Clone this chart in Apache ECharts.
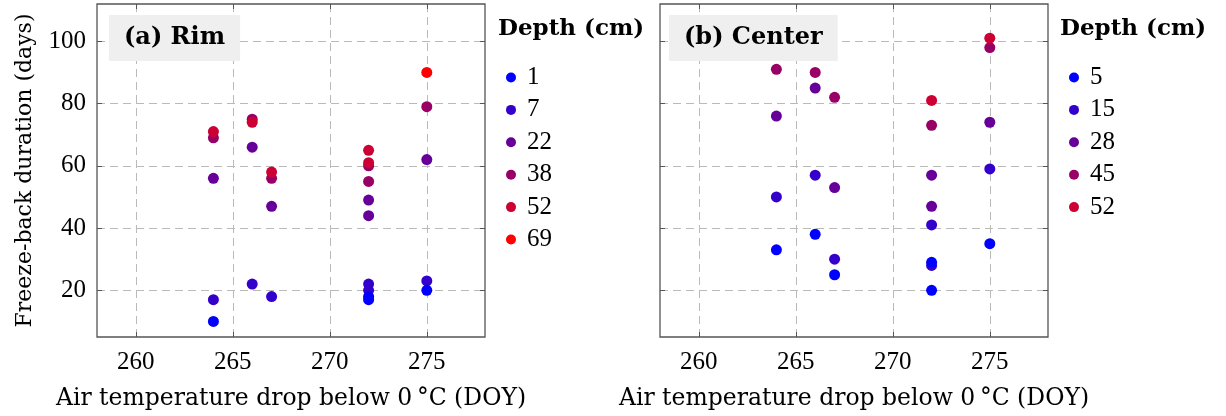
<!DOCTYPE html>
<html>
<head>
<meta charset="utf-8">
<script src="https://cdn.jsdelivr.net/npm/echarts@6/dist/echarts.min.js"></script>
<style>
html,body{margin:0;padding:0;background:#fff;}
#chart{width:1226px;height:416px;}
</style>
</head>
<body>
<div id="chart"></div>
<script>
// ---- data: [DOY of air temperature drop, freeze-back duration (days)] ----
const xTicks = [260, 265, 270, 275];
const yTicks = [20, 40, 60, 80, 100];

const rimDepths = ['1', '7', '22', '38', '52', '69'];
const rimD1  = [[264, 10], [272, 18], [272, 17], [275, 20]];
const rimD7  = [[264, 17], [266, 22], [267, 18], [272, 22], [272, 20], [275, 23]];
const rimD22 = [[264, 56], [266, 66], [267, 47], [272, 49], [272, 44], [275, 62]];
const rimD38 = [[264, 69], [266, 75], [267, 56], [272, 60], [272, 55], [275, 79]];
const rimD52 = [[264, 71], [266, 74], [267, 58], [272, 65], [272, 61]];
const rimD69 = [[275, 90]];

const centerDepths = ['5', '15', '28', '45', '52'];
const cenD5  = [[264, 33], [266, 38], [267, 25], [272, 29], [272, 20], [275, 35]];
const cenD15 = [[264, 50], [266, 57], [267, 30], [272, 41], [272, 28], [275, 59]];
const cenD28 = [[264, 76], [266, 85], [267, 53], [272, 57], [272, 47], [275, 74]];
const cenD45 = [[264, 91], [266, 90], [267, 82], [272, 73], [275, 98]];
const cenD52 = [[272, 81], [275, 101]];

const depthColors = {
  '1': '#0000ff', '5': '#0000ff',
  '7': '#3300cc', '15': '#3300cc',
  '22': '#660099', '28': '#660099',
  '38': '#990066', '45': '#990066',
  '52': '#cc0033', '69': '#ff0000'
};

const xName = 'Air temperature drop below 0\u2009°C (DOY)';
const yName = 'Freeze-back duration (days)';

// ---- layout ----
const grids = [
  {left: 97, top: 4, width: 388, height: 334},
  {left: 660, top: 4, width: 388, height: 334}
];
const frameColor = '#555555';
const gridLineStyle = {type: [8, 5], color: '#bababa', width: 1};
const tickFont = {fontFamily: 'Liberation Serif', fontSize: 25, color: '#000'};
const nameFont = {fontFamily: 'DejaVu Serif', fontSize: 23.5, color: '#000'};

function bottomX(i) {
  return {
    type: 'value', gridIndex: i, min: 258, max: 278, position: 'bottom',
    axisLine: {show: false},
    axisTick: {show: true, inside: true, length: 5, customValues: xTicks, lineStyle: {color: frameColor}},
    axisLabel: {show: true, customValues: xTicks, margin: 13, ...tickFont},
    splitLine: {show: true, lineStyle: gridLineStyle},
    name: xName, nameLocation: 'middle', nameGap: 50, nameTextStyle: nameFont
  };
}
function topX(i) {
  return {
    type: 'value', gridIndex: i, min: 258, max: 278, position: 'top',
    axisLine: {show: false},
    axisTick: {show: true, inside: true, length: 5, customValues: xTicks, lineStyle: {color: frameColor}},
    axisLabel: {show: false}, splitLine: {show: false}
  };
}
function leftY(i, labels) {
  const ax = {
    type: 'value', gridIndex: i, min: 5, max: 112, position: 'left',
    axisLine: {show: false},
    axisTick: {show: true, inside: true, length: 5, customValues: yTicks, lineStyle: {color: frameColor}},
    axisLabel: {show: labels, customValues: yTicks, margin: 11, ...tickFont},
    splitLine: {show: true, lineStyle: gridLineStyle}
  };
  if (labels) {
    ax.name = yName; ax.nameLocation = 'middle'; ax.nameGap = 61;
    ax.nameTextStyle = {...nameFont, fontSize: 22};
  }
  return ax;
}
function rightY(i) {
  return {
    type: 'value', gridIndex: i, min: 5, max: 112, position: 'right',
    axisLine: {show: false},
    axisTick: {show: true, inside: true, length: 5, customValues: yTicks, lineStyle: {color: frameColor}},
    axisLabel: {show: false}, splitLine: {show: false}
  };
}

function sc(name, data, gi) {
  return {
    type: 'scatter', name: name, data: data,
    xAxisIndex: gi, yAxisIndex: gi,
    symbol: 'circle', symbolSize: 11,
    itemStyle: {color: depthColors[name], opacity: 1},
    emphasis: {disabled: true}
  };
}

// drawing order (deeper on top, shallowest drawn last as in the reference)
const series = [
  sc('7', rimD7, 0), sc('22', rimD22, 0), sc('38', rimD38, 0),
  sc('52', rimD52, 0), sc('69', rimD69, 0), sc('1', rimD1, 0),
  sc('15', cenD15, 1), sc('28', cenD28, 1), sc('45', cenD45, 1),
  sc('52', cenD52, 1), sc('5', cenD5, 1)
];

function legendFor(data, left) {
  return {
    data: data.map(d => ({name: d, icon: 'circle', itemStyle: {color: depthColors[d]}})),
    orient: 'vertical', left: left, top: 60, itemWidth: 10, itemHeight: 10, itemGap: 7.4,
    selectedMode: false,
    textStyle: {...tickFont, padding: [0, 0, 0, 6]}
  };
}

function panelTitle(text, left) {
  return {
    text: text, left: left, top: 15,
    backgroundColor: '#efefef', padding: [9, 15, 9, 15],
    textStyle: {fontFamily: 'DejaVu Serif', fontWeight: 'bold', fontSize: 24, color: '#000', lineHeight: 28}
  };
}
function legendTitle(left) {
  return {
    text: 'Depth (cm)', left: left, top: 14, padding: 0,
    textStyle: {fontFamily: 'DejaVu Serif', fontWeight: 'bold', fontSize: 23, color: '#000', lineHeight: 30}
  };
}

const option = {
  animation: false,
  backgroundColor: '#ffffff',
  title: [panelTitle('(a) Rim', 109), panelTitle('(b) Center', 669), legendTitle(498), legendTitle(1060)],
  grid: grids.map(g => ({...g, show: true, borderColor: frameColor, borderWidth: 1.3, backgroundColor: 'transparent'})),
  xAxis: [bottomX(0), bottomX(1), topX(0), topX(1)],
  yAxis: [leftY(0, true), leftY(1, false), rightY(0), rightY(1)],
  legend: [legendFor(rimDepths, 501), legendFor(centerDepths, 1064)],
  series: series
};

const chart = echarts.init(document.getElementById('chart'), null, {renderer: 'canvas'});
chart.setOption(option);
</script>
</body>
</html>
